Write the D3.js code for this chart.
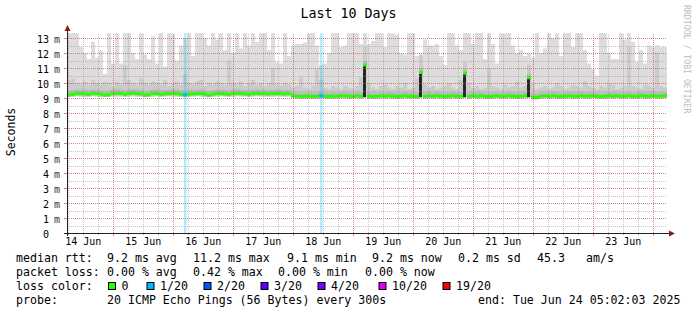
<!DOCTYPE html>
<html>
<head>
<meta charset="utf-8">
<script src="https://cdn.jsdelivr.net/npm/d3@7/dist/d3.min.js"></script>
<style>
  body { margin: 0; background: #fff; }
  text { font-family: "DejaVu Sans Mono", monospace; }
</style>
</head>
<body>
<svg id="viz"></svg>
<script>

// ping samples, one every 1.6 h over the 10 days (values in ms)
var maxRtt = [
  13.5, 13.5, 13.5, 12.4, 12.0, 11.6, 12.75, 11.7, 12.2, 10.6,
  13.5, 11.3, 13.5, 11.3, 13.5, 13.5, 12.0, 11.6, 13.5, 11.9,
  11.6, 13.1, 11.3, 13.5, 11.1, 13.5, 13.25, 11.5, 12.5, 13.0,
  13.5, 11.8, 13.5, 13.5, 13.0, 12.5, 13.5, 12.9, 13.5, 12.2,
  13.5, 12.0, 13.5, 12.3, 13.5, 12.5, 13.5, 12.75, 13.5, 13.5,
  12.2, 13.5, 11.4, 11.3, 13.5, 11.8, 12.5, 12.6, 12.6, 12.7,
  13.5, 13.5, 12.5, 11.2, 11.3, 12.0, 13.5, 13.5, 12.4, 12.5,
  13.5, 13.5, 13.5, 12.6, 13.5, 12.6, 12.8, 13.5, 13.5, 12.4,
  13.5, 13.3, 13.2, 12.0, 11.9, 13.5, 13.5, 11.8, 11.6, 12.9,
  12.5, 12.5, 12.6, 11.8, 11.2, 13.5, 13.5, 12.5, 12.2, 13.5,
  13.5, 12.6, 13.5, 13.5, 11.6, 13.5, 12.6, 11.3, 13.5, 13.3,
  13.5, 12.5, 12.0, 12.2, 11.8, 12.0, 11.7, 13.5, 12.0, 12.3,
  13.5, 13.0, 13.5, 11.8, 13.5, 13.5, 12.4, 13.5, 13.5, 12.2,
  11.3, 10.9, 10.5, 13.5, 13.5, 12.0, 11.6, 11.6, 13.5, 12.9,
  13.5, 12.75, 11.4, 12.2, 11.3, 12.5, 12.4, 12.5, 12.4, 12.4
];

var upRtt = [
  10.2, 10.3, 10.0, 9.9, 10.1, 9.9, 10.2, 10.0, 9.9, 10.1,
  10.0, 9.8, 10.1, 9.9, 11.2, 10.2, 10.0, 9.9, 10.3, 10.0,
  9.9, 10.1, 10.0, 9.9, 10.2, 9.8, 10.0, 10.1, 9.9, 10.6,
  10.0, 9.9, 10.1, 10.2, 9.8, 10.0, 9.9, 10.1, 10.0, 9.9,
  11.5, 10.0, 9.9, 10.1, 9.8, 10.0, 10.2, 9.9, 10.0, 9.8,
  10.0, 11.0, 9.9, 9.8, 10.0, 9.9, 9.7, 9.8, 10.4, 9.7,
  9.6, 9.8, 10.9, 10.2, 9.7, 9.6, 9.8, 9.7, 9.6, 9.8,
  9.7, 9.6, 9.8, 10.4, 12.4, 10.0, 9.7, 9.6, 9.8, 9.9,
  9.7, 9.6, 9.8, 9.7, 10.0, 9.6, 9.7, 10.3, 11.9, 9.9,
  9.7, 9.8, 9.6, 9.7, 9.8, 10.0, 9.7, 9.6, 10.2, 11.4,
  10.0, 9.7, 9.8, 9.6, 9.7, 11.0, 9.8, 9.7, 9.6, 9.9,
  9.7, 9.8, 10.1, 9.7, 9.8, 11.2, 9.9, 9.6, 9.7, 9.8,
  9.6, 9.7, 10.0, 9.8, 9.6, 9.7, 9.9, 9.8, 9.7, 10.1,
  9.8, 9.7, 9.6, 9.8, 9.7, 10.0, 9.9, 9.6, 9.7, 9.8,
  12.4, 9.8, 9.7, 9.6, 9.9, 9.8, 9.7, 12.0, 9.8, 9.7
];

var medRtt = [
  9.22, 9.25, 9.3, 9.3, 9.28, 9.25, 9.32, 9.3, 9.25, 9.2,
  9.22, 9.3, 9.32, 9.3, 9.25, 9.3, 9.33, 9.3, 9.28, 9.2,
  9.22, 9.3, 9.3, 9.25, 9.28, 9.3, 9.32, 9.3, 9.25, 9.22,
  9.25, 9.28, 9.3, 9.3, 9.25, 9.2, 9.25, 9.3, 9.3, 9.28,
  9.25, 9.3, 9.32, 9.3, 9.28, 9.25, 9.3, 9.32, 9.3, 9.3,
  9.28, 9.3, 9.3, 9.3, 9.28, 9.3, 9.15, 9.12, 9.1, 9.12,
  9.12, 9.1, 9.12, 9.15, 9.12, 9.1, 9.12, 9.12, 9.15, 9.15,
  9.12, 9.1, 9.15, 9.12, 11.2, 9.12, 9.1, 9.12, 9.15, 9.12,
  9.15, 9.12, 9.1, 9.12, 9.15, 9.12, 9.12, 9.1, 10.7, 9.12,
  9.15, 9.12, 9.15, 9.12, 9.1, 9.12, 9.15, 9.12, 9.12, 10.65,
  9.12, 9.15, 9.12, 9.15, 9.12, 9.1, 9.12, 9.15, 9.12, 9.12,
  9.15, 9.12, 9.1, 9.12, 9.15, 10.35, 9.05, 9.05, 9.12, 9.15,
  9.12, 9.15, 9.12, 9.1, 9.12, 9.15, 9.12, 9.12, 9.15, 9.12,
  9.12, 9.15, 9.12, 9.1, 9.12, 9.15, 9.12, 9.15, 9.12, 9.12,
  9.15, 9.12, 9.12, 9.15, 9.12, 9.12, 9.15, 9.12, 9.12, 9.15
];

var lowRtt = [
  9.08, 9.1, 9.12, 9.1, 9.08, 9.1, 9.12, 9.1, 9.05, 9.08,
  9.1, 9.12, 9.1, 9.1, 9.08, 9.1, 9.12, 9.1, 9.08, 9.05,
  9.08, 9.1, 9.12, 9.08, 9.1, 9.12, 9.1, 9.1, 9.08, 9.05,
  9.08, 9.1, 9.12, 9.1, 9.08, 9.05, 9.08, 9.1, 9.12, 9.1,
  9.08, 9.1, 9.12, 9.1, 9.1, 9.08, 9.1, 9.12, 9.1, 9.1,
  9.08, 9.1, 9.12, 9.1, 9.08, 9.1, 8.98, 8.97, 8.95, 8.97,
  8.98, 8.95, 8.97, 8.98, 8.97, 8.95, 8.97, 8.98, 8.98, 8.97,
  8.97, 8.95, 8.98, 8.97, 9.05, 8.97, 8.95, 8.97, 8.98, 8.97,
  8.98, 8.97, 8.95, 8.97, 8.98, 8.97, 8.97, 8.95, 9.05, 8.97,
  8.98, 8.97, 8.98, 8.97, 8.95, 8.97, 8.98, 8.97, 8.97, 9.05,
  8.97, 8.98, 8.97, 8.98, 8.97, 8.95, 8.97, 8.98, 8.97, 8.97,
  8.98, 8.97, 8.95, 8.97, 8.98, 9.05, 8.92, 8.92, 8.97, 8.98,
  8.97, 8.98, 8.97, 8.95, 8.97, 8.98, 8.97, 8.97, 8.98, 8.97,
  8.97, 8.98, 8.97, 8.95, 8.97, 8.98, 8.97, 8.98, 8.97, 8.97,
  8.98, 8.97, 8.97, 8.98, 8.97, 8.97, 8.98, 8.97, 8.97, 8.98
];

var lossSamples = [29, 63],
    lossPings   = [1, 1];

var lossSteps  = [0, 1, 2, 3, 4, 10, 19],
    lossLabels = ['0', '1/20', '2/20', '3/20', '4/20', '10/20', '19/20'];

var rttStats  = [9.2, 11.2, 9.1, 9.2, 0.2],
    rttNames  = ['avg', 'max', 'min', 'now', 'sd'],
    ampsPerS  = 45.3,
    lossStats = [0.00, 0.42, 0.00, 0.00],
    lossNames = ['avg', 'max', 'min', 'now'];

var chartTitle = 'Last 10 Days',
    probeText  = '20 ICMP Echo Pings (56 Bytes) every 300s',
    endText    = 'end: Tue Jun 24 05:02:03 2025';

// ---- layout
var width = 697,
    height = 315,
    plotL = 67,
    plotR = 667,
    plotT = 33,
    plotB = 233;

var lossColors = ['#26ff00', '#00b8ff', '#0059ff', '#5e00ff', '#7e00ff', '#dd00ff', '#ff0000'];

var start = new Date(Date.UTC(2025, 5, 14, 5, 29, 0)),
    end = new Date(+start + 10 * 864e5),
    n = maxRtt.length,
    step = (end - start) / n;

var xScale = d3.scaleUtc()
  .domain([start, end])
  .range([plotL, plotR]);

var yScale = d3.scaleLinear()
  .domain([0, 200 / 15])
  .range([plotB, plotT]);

var lossColor = d3.scaleThreshold()
  .domain(lossSteps.slice(1))
  .range(lossColors);

var lossCount = maxRtt.map(function() { return 0; });
lossSamples.forEach(function(s, i) { lossCount[s] = lossPings[i]; });

var samples = maxRtt.map(function(v, i) {
  return {
    t: new Date(+start + i * step),
    t1: new Date(+start + (i + 1) * step),
    max: v, up: upRtt[i], med: medRtt[i], low: lowRtt[i], loss: lossCount[i]
  };
});
var pts = samples.concat([Object.assign({}, samples[n - 1], {t: end})]);

var svg = d3.select('#viz')
  .attr('width', width)
  .attr('height', height);

svg.append('rect')
  .attr('width', width).attr('height', height)
  .attr('fill', '#fff');

svg.append('clipPath').attr('id', 'plot')
  .append('rect')
    .attr('x', plotL).attr('y', plotT)
    .attr('width', plotR - plotL).attr('height', plotB - plotT);

var plot = svg.append('g').attr('clip-path', 'url(#plot)');

// smoke
function band(lo, hi) {
  return d3.area()
    .curve(d3.curveStepAfter)
    .x(function(d) { return xScale(d.t); })
    .y0(function(d) { return yScale(lo(d)); })
    .y1(function(d) { return yScale(hi(d)); });
}

plot.append('path')
  .datum(pts)
  .attr('fill', '#dddddd')
  .attr('d', band(function(d) { return d.low; }, function(d) { return d.max; }));

plot.append('path')
  .datum(pts)
  .attr('fill', '#cbcbcb')
  .attr('d', band(function(d) { return d.low; }, function(d) { return d.up; }));

plot.selectAll('.halo')
  .data(samples)
  .enter().append('rect')
    .attr('class', 'halo')
    .attr('x', function(d) { return xScale(d.t); })
    .attr('width', function(d) { return xScale(d.t1) - xScale(d.t); })
    .attr('y', function(d) { return yScale(d.med) - 4; })
    .attr('height', 6)
    .attr('fill', '#bababa');

// grid
var minorX = d3.utcHour.every(6).range(start, end),
    majorX = d3.utcDay.range(start, end),
    minorY = yScale.ticks(27),
    majorY = yScale.ticks(13);

var grid = svg.append('g')
  .attr('stroke-dasharray', '1,1')
  .attr('shape-rendering', 'crispEdges');

grid.selectAll('.gx').data(minorX).enter().append('line')
  .attr('x1', function(d) { return Math.round(xScale(d)) + 0.5; })
  .attr('x2', function(d) { return Math.round(xScale(d)) + 0.5; })
  .attr('y1', plotB).attr('y2', plotT)
  .attr('stroke', 'rgba(143,143,143,0.5)');

grid.selectAll('.gy').data(minorY).enter().append('line')
  .attr('y1', function(d) { return Math.round(yScale(d)) + 0.5; })
  .attr('y2', function(d) { return Math.round(yScale(d)) + 0.5; })
  .attr('x1', plotL).attr('x2', plotR)
  .attr('stroke', 'rgba(143,143,143,0.5)');

grid.selectAll('.mx').data(majorX).enter().append('line')
  .attr('x1', function(d) { return Math.round(xScale(d)) + 0.5; })
  .attr('x2', function(d) { return Math.round(xScale(d)) + 0.5; })
  .attr('y1', plotB).attr('y2', plotT)
  .attr('stroke', 'rgba(222,48,48,0.42)');

grid.selectAll('.my').data(majorY.filter(function(d) { return d > 0; })).enter().append('line')
  .attr('y1', function(d) { return Math.round(yScale(d)) + 0.5; })
  .attr('y2', function(d) { return Math.round(yScale(d)) + 0.5; })
  .attr('x1', plotL).attr('x2', plotR)
  .attr('stroke', 'rgba(222,48,48,0.42)');

// high median columns
plot.selectAll('.spike')
  .data(samples.filter(function(d) { return d.med - d.low > 0.5; }))
  .enter().append('rect')
    .attr('x', function(d) { return xScale(d.t); })
    .attr('width', function(d) { return xScale(d.t1) - xScale(d.t) - 1; })
    .attr('y', function(d) { return yScale(d.med); })
    .attr('height', function(d) { return yScale(d.low) - yScale(d.med); })
    .attr('fill', '#262626');

// median, coloured by loss
plot.selectAll('.med')
  .data(samples)
  .enter().append('rect')
    .attr('x', function(d) { return xScale(d.t); })
    .attr('width', function(d) { return xScale(d.t1) - xScale(d.t); })
    .attr('y', function(d) { return yScale(d.med) - 1.5; })
    .attr('height', 3)
    .attr('fill', function(d) { return lossColor(d.loss); });

// loss background
plot.selectAll('.lossbar')
  .data(samples.filter(function(d) { return d.loss > 0; }))
  .enter().append('rect')
    .attr('x', function(d) { return xScale(d.t) + 1; })
    .attr('width', 2.5)
    .attr('y', plotT)
    .attr('height', plotB - plotT)
    .attr('fill', function(d) { return lossColor(d.loss); })
    .attr('opacity', 0.3);

// axes
var axis = svg.append('g').attr('shape-rendering', 'crispEdges');

axis.selectAll('.tx').data(minorX).enter().append('line')
  .attr('x1', function(d) { return Math.round(xScale(d)) + 0.5; })
  .attr('x2', function(d) { return Math.round(xScale(d)) + 0.5; })
  .attr('y1', plotB).attr('y2', plotB + 2)
  .attr('stroke', '#aaa');
axis.selectAll('.txm').data(majorX).enter().append('line')
  .attr('x1', function(d) { return Math.round(xScale(d)) + 0.5; })
  .attr('x2', function(d) { return Math.round(xScale(d)) + 0.5; })
  .attr('y1', plotB).attr('y2', plotB + 3)
  .attr('stroke', '#e08080');
axis.selectAll('.ty').data(majorY).enter().append('line')
  .attr('y1', function(d) { return Math.round(yScale(d)) + 0.5; })
  .attr('y2', function(d) { return Math.round(yScale(d)) + 0.5; })
  .attr('x1', plotL - 3).attr('x2', plotL)
  .attr('stroke', '#e08080');

axis.append('line')
  .attr('x1', plotL - 3).attr('x2', plotR + 3)
  .attr('y1', plotB + 0.5).attr('y2', plotB + 0.5)
  .attr('stroke', '#222');
axis.append('line')
  .attr('x1', plotL + 0.5).attr('x2', plotL + 0.5)
  .attr('y1', plotB + 3).attr('y2', plotT - 3)
  .attr('stroke', '#222');

svg.append('path')
  .attr('d', 'M' + (plotR + 2) + ',' + (plotB - 2.5) + 'l6,3l-6,3z')
  .attr('fill', '#8b1c1c');
svg.append('path')
  .attr('d', 'M' + (plotL - 2.5) + ',' + (plotT - 2) + 'l3,-6l3,6z')
  .attr('fill', '#8b1c1c');

// tick labels
var yLab = svg.append('g').attr('font-size', '10px').attr('fill', '#000');
yLab.selectAll('.yn').data(majorY).enter().append('text')
  .attr('x', 49)
  .attr('y', function(d) { return yScale(d) + 4.5; })
  .attr('text-anchor', 'end')
  .text(function(d) { return d; });
yLab.selectAll('.yu').data(majorY.filter(function(d) { return d > 0; })).enter().append('text')
  .attr('x', 54)
  .attr('y', function(d) { return yScale(d) + 4.5; })
  .attr('fill', '#333')
  .text('m');

var noons = d3.utcDay.range(d3.utcDay.floor(start), end)
  .map(function(d) { return d3.utcHour.offset(d, 12); })
  .filter(function(d) { return d > start && d < end; });

svg.append('g').attr('font-size', '10px')
  .selectAll('text').data(noons).enter().append('text')
    .attr('x', function(d) { return xScale(d); })
    .attr('y', 245)
    .attr('text-anchor', 'middle')
    .text(d3.utcFormat('%d %b'));

// titles
svg.append('text')
  .attr('x', 348.5).attr('y', 18)
  .attr('text-anchor', 'middle')
  .attr('font-size', '13.3px')
  .text(chartTitle);

svg.append('text')
  .attr('transform', 'translate(15,132) rotate(-90)')
  .attr('text-anchor', 'middle')
  .attr('font-size', '11.5px')
  .text('Seconds');

svg.append('text')
  .attr('transform', 'translate(684,5) rotate(90)')
  .attr('font-size', '8.2px')
  .attr('fill', '#bdbdbd')
  .text('RRDTOOL / TOBI OETIKER');

// legend
var f1 = d3.format('.1f'), f2 = d3.format('.2f');
var legend = svg.append('g').attr('font-size', '11.6px');

function put(x, y, s) {
  legend.append('text').attr('x', x).attr('y', y).text(s);
}

put(16, 262, 'median rtt:');
[107, 193, 287, 372, 458].forEach(function(x, i) {
  put(x, 262, f1(rttStats[i]) + ' ms ' + rttNames[i]);
});
put(537, 262, f1(ampsPerS));
put(586, 262, 'am/s');

put(16, 276, 'packet loss:');
[107, 193, 278, 365].forEach(function(x, i) {
  put(x, 276, f2(lossStats[i]) + ' % ' + lossNames[i]);
});

put(16, 290, 'loss color:');
var boxX = [108, 146.5, 203.5, 260.5, 317.5, 378.5, 442.5];
lossLabels.forEach(function(l, i) {
  legend.append('rect')
    .attr('x', boxX[i] + 0.5).attr('y', 282.5)
    .attr('width', 7).attr('height', 7)
    .attr('fill', lossColor(lossSteps[i]))
    .attr('stroke', '#000');
  put(boxX[i] + 13.5, 290, l);
});

put(16, 304, 'probe:');
put(107, 304, probeText);
put(478, 304, endText);

</script>
</body>
</html>
